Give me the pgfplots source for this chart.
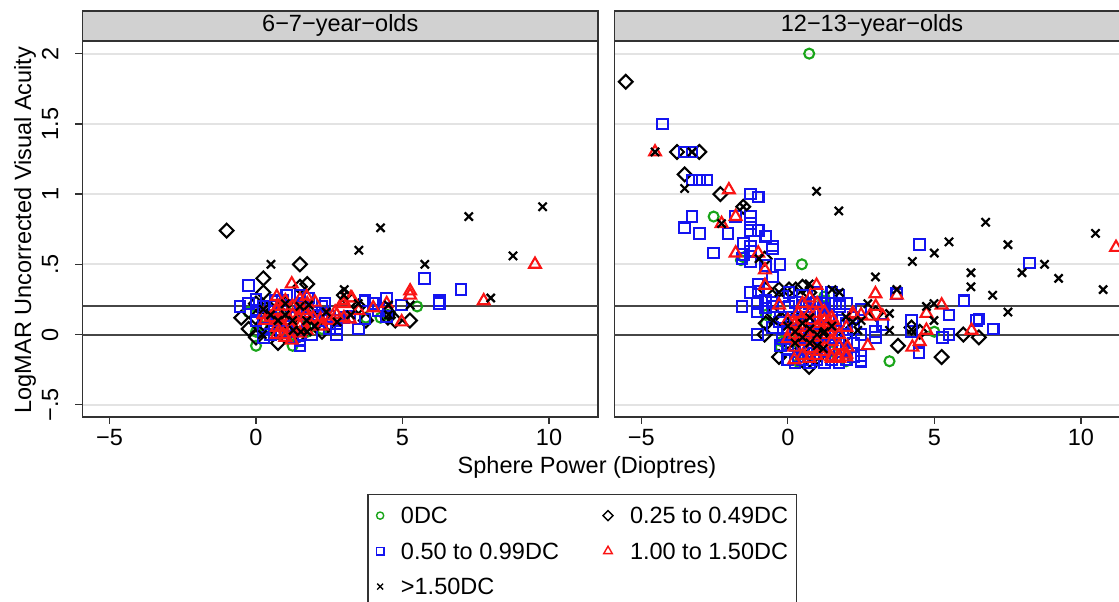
\documentclass[border=0pt]{standalone}
\usepackage{fontspec}
\setmainfont{Liberation Sans}
\usepackage{pgfplots}
\pgfplotsset{compat=1.18}

\definecolor{stgreen}{RGB}{25,165,25}
\definecolor{stblue}{RGB}{20,20,240}
\definecolor{stred}{RGB}{250,20,20}
\definecolor{frame}{RGB}{50,50,50}

\pgfplotsset{
  panel/.style={
    scale only axis, width=515.5pt, height=376pt,
    xmin=-5.92, xmax=11.67, ymin=-0.587, ymax=2.09,
    anchor=south west,
    axis line style={draw=frame, line width=1.3pt},
    xtick={-5,0,5,10}, xticklabels={−5,0,5,10},
    ytick={-0.5,0,0.5,1,1.5,2},
    xtick pos=bottom, ytick pos=left,
    tick align=outside, major tick length=7pt,
    tick style={frame, line width=1.3pt},
    xticklabel style={anchor=north, inner sep=0pt},
    xticklabel shift=5pt,
    ymajorgrids, grid style={black!11, line width=1.8pt},
    clip mode=individual,
  },
  g0/.style={only marks, mark=o, mark size=5pt, stgreen, line width=2.1pt},
  g1/.style={only marks, mark=square, mark size=4.9pt, mark options={rotate=45}, black, line width=2.1pt},
  g2/.style={only marks, mark=square, mark size=5.3pt, stblue, line width=2.1pt},
  g3/.style={only marks, mark=triangle, mark size=6.8pt, stred, line width=2.1pt},
  g4/.style={only marks, mark=x, mark size=5.8pt, black, line width=2.2pt},
  refl/.style={frame!90, line width=2pt, forget plot},
}

\begin{document}
\fontsize{23.5}{28}\selectfont
\begin{tikzpicture}[x=1pt,y=1pt]

% ---- left panel: 6-7-year-olds
\begin{axis}[panel, at={(82.5pt,185pt)},
  yticklabels={−.5,0,.5,1,1.5,2},
  yticklabel style={rotate=90, anchor=south, inner sep=0pt},
  yticklabel shift=17pt,
  legend columns=2,
  legend cell align=left,
  legend style={
    at={(0.5525,-0.2048)}, anchor=north west,
    draw=frame, line width=1.2pt, fill=white,
    inner xsep=8.4pt, inner ysep=12.75pt,
    row sep=19pt,
    nodes={inner sep=0pt, text height=16.5pt, text depth=0pt},
    /tikz/every odd column/.append style={column sep=17pt},
    /tikz/every even column/.append style={column sep=44pt},
  },
  legend image code/.code={\draw[mark repeat=2,mark phase=2,line width=1.4pt,/tikz/every mark/.append style={scale=0.72}] plot coordinates {(0pt,0pt)(6pt,0pt)(12pt,0pt)};},
]
\addplot[refl] coordinates {(-6,0) (12,0)};
\addplot[refl] coordinates {(-6,0.2) (12,0.2)};

\addplot[g0] coordinates {(0,-0.08) (1.25,-0.08) (5.5,0.2) (4.25,0.12) (0,0.02) (0.2,0.06) (0.75,0.12) (1,0.18) (1.75,0.02) (2.25,0.04) (3.75,0.12) (4.5,0.14) (1.5,0.08) (0.5,0.04) (2,0.06) (-0.25,0.16) (1.25,0.0)};
\addlegendentry{0DC}

\addplot[g1] coordinates {(-1,0.74) (1.5,0.5) (0.25,0.4) (0.25,0.3) (1.75,0.36) (1.5,0.34) (-0.5,0.12) (-0.25,0.04) (0,-0.02) (0.75,-0.06) (5.25,0.1) (4.75,0.1) (4.5,0.12) (3.75,0.1) (3,0.28) (0.25,0.2) (0,0.22) (0.25,0.08) (1,0.1) (1.25,0.12) (0.5,0.18) (1.75,0.14) (2,0.12) (2.5,0.08) (1,0.22) (0.75,0.02) (1.5,0) (4.5,0.16) (3.5,0.2) (0,0.12) (1.25,0.04) (2.25,0.02)};
\addlegendentry{0.25 to 0.49DC\hspace{12pt}}

\addplot[g2] coordinates {(-0.26,0.35) (-0.55,0.2) (-0.26,0.22) (0,0.25) (0,0.1) (0.25,0.2) (0.25,-0.02) (1.5,0.28) (1.78,0.26) (2.35,0.22) (2.35,0.15) (2.75,0) (2.75,0.04) (3.5,0.04) (3.72,0.24) (4,0.22) (3.72,0.11) (4.46,0.26) (4.46,0.13) (4.97,0.21) (5.75,0.4) (6.25,0.24) (6.25,0.22) (7,0.32) (1.5,-0.08) (1.05,0.28) (0.65,0.24) (0.25,0.04) (0.7,0.1) (1.1,0.02) (1.9,0) (2.13,0.14) (2.5,0.13) (3.2,0.13) (4.17,0.17) (0.5,0.12) (0.75,0.16) (1,0.06) (1.25,0.2) (1.5,0.16) (1.75,0.08) (2,0.16) (2.25,0.1) (0.5,0.2) (1,0.14) (1.25,-0.02) (1.5,0.22) (0.75,0.08) (2.5,0.04) (3,0.12) (0,0.16) (0.25,0.12) (1.5,-0.04) (0.5,0.0) (2.25,0.2) (1.75,0.2) (2.75,0.1) (0.9,0.24)};
\addlegendentry{0.50 to 0.99DC}

\addplot[g3] coordinates {(1.22,0.36) (0.71,0.27) (1.73,0.27) (2.01,0.23) (2.98,0.24) (3.27,0.26) (5.26,0.31) (5.26,0.28) (4.97,0.09) (4,0.19) (4.46,0.22) (3.2,0.11) (3,0.12) (2.7,0.16) (2.41,0.13) (2.2,0.11) (0.25,0.14) (0.71,0.17) (0.93,0.2) (1.22,0.04) (0.71,0) (0.93,0) (1.73,0.03) (1.22,-0.04) (0.71,0.05) (1.44,0.13) (1.73,0.15) (1.95,0.12) (1.16,0.1) (0.83,0.1) (0.31,0.1) (1.9,0.06) (1.5,0.06) (1.61,0.17) (9.52,0.5) (7.77,0.24) (3.5,0.17) (3.23,0.26) (3,0.22) (1.0,0.24) (1.25,0.2) (0.75,0.2) (1.5,0.25) (1,-0.02) (0.5,0.12) (2.5,0.1) (2.75,0.14) (1.75,0.22) (1.25,0.14) (0.9,0.06) (2.25,0.06) (1.5,0.01) (0.75,0.1)};
\addlegendentry{1.00 to 1.50DC\hspace{12pt}}

\addplot[g4] coordinates {(0.51,0.5) (3.51,0.6) (4.25,0.76) (7.26,0.84) (9.78,0.91) (8.77,0.56) (5.76,0.5) (8.01,0.26) (3.01,0.32) (3.23,0.14) (3.49,0.22) (4.52,0.21) (4.52,0.14) (5.26,0.21) (1,0.14) (1.8,0.21) (1,0.22) (0.22,0) (1.27,0.03) (1.53,0.02) (1.73,0.1) (0.75,0.1) (2.77,0.09) (2.4,0.16) (1.25,0.1) (0.5,0.14) (1.5,0.2) (2,0.06) (0.25,0.18) (1.75,0.02) (3.0,0.28)};
\addlegendentry{>1.50DC}
\end{axis}

% ---- right panel: 12-13-year-olds
\begin{axis}[panel, at={(614.3pt,185pt)},
  yticklabels={}, ymajorticks=false,
]
\addplot[refl] coordinates {(-6,0) (12,0)};
\addplot[refl] coordinates {(-6,0.2) (12,0.2)};

\addplot[g0] coordinates {(0.73,2.0) (-2.53,0.84) (0.48,0.5) (1.24,0.27) (3.47,-0.19) (5.0,0.02) (-0.75,0.14) (-0.75,0.08) (-0.24,-0.09) (0.39,-0.2) (1.99,-0.19) (-1.5,0.55) (-1.6,0.53) (1.21,0.24) (-0.18,-0.05) (0.25,-0.05) (1.5,-0.12)};

\addplot[g1] coordinates {(-5.53,1.8) (-3.78,1.3) (-3.02,1.3) (-3.52,1.14) (-2.3,1.0) (-1.52,0.91) (-0.79,0.54) (-0.3,0.32) (0.04,0.32) (0.27,0.32) (0.73,0.3) (0.5,0.34) (-0.75,0.08) (-0.79,0) (-0.3,-0.16) (-0.18,0.1) (0.73,-0.23) (0.5,-0.1) (0.25,0.12) (0,-0.05) (-0.5,0.15) (0.75,-0.18) (1.25,0.05) (3.76,-0.08) (5.25,-0.16) (5.99,0) (6.52,-0.02) (3.0,0.15) (4.22,0.05) (4.5,0.02) (-0.75,0.32) (1.0,-0.16) (2.0,0.0)};

\addplot[g2] coordinates {(-4.28,1.5) (-3.52,1.3) (-3.27,1.3) (-3.27,1.1) (-3.02,1.1) (-2.76,1.1) (-1.27,1.0) (-1.01,0.98) (-3.27,0.84) (-3.52,0.76) (-3.02,0.72) (-2.04,0.72) (-2.53,0.58) (-1.78,0.84) (-1.27,0.84) (-1.27,0.79) (-1.27,0.74) (-1.01,0.74) (-0.75,0.7) (-0.53,0.63) (-0.53,0.61) (-1.52,0.65) (-1.27,0.63) (-1.52,0.57) (-1.27,0.59) (-1.56,0.54) (-1.27,0.52) (-0.27,0.5) (-0.75,0.49) (-1.01,0.36) (-0.53,0.41) (-1.27,0.3) (-1.01,0.31) (-1.56,0.2) (-1.04,0.22) (-1.04,0.16) (-0.75,0.19) (-0.75,0.24) (-0.52,0.23) (-0.18,0.27) (-1.04,0) (-0.53,0.05) (-0.28,0.09) (0.04,0.3) (0.04,0.2) (0.27,0.23) (0.27,0.1) (0,0.04) (-0.18,-0.03) (0,-0.07) (0,-0.18) (0.35,-0.16) (0.93,0.22) (1.21,0.19) (1.21,0.12) (1,0.09) (4.5,0.64) (8.25,0.51) (6.01,0.24) (5.5,0.14) (6.52,0.11) (7.01,0.04) (5.5,0) (5.28,-0.02) (3.72,0.29) (4.22,0.1) (4.22,0.02) (4.48,-0.13) (2.99,-0.02) (2.99,0.02) (2.5,-0.15) (2.5,-0.19) (3.24,0.07) (2.23,0.12) (1.76,0.22) (1.76,0.2) (2.5,0.18) (0.73,0.22) (0.98,0.23) (6.44,0.1)
 (-0.25,0.12) (0.5,0.2) (0.75,0.12) (1.25,0.14) (1.5,0.12) (1.75,0.1) (2,0.08) (2.25,0.04) (2.5,0.0) (0.25,0.04) (0.5,0.0) (0.75,0.02) (1.0,0.0) (1.25,0.04) (1.5,0.0) (1.75,-0.02) (2.0,-0.04) (2.25,-0.06) (-0.25,-0.08) (0.25,-0.08) (0.5,-0.1) (0.75,-0.06) (1.0,-0.1) (1.25,-0.08) (1.5,-0.1) (1.75,-0.1) (2.0,-0.12) (0.25,-0.2) (0.5,-0.18) (0.75,-0.2) (1.0,-0.18) (1.25,-0.2) (1.5,-0.18) (1.75,-0.2) (2.0,-0.18) (2.25,-0.16) (1.0,0.3) (1.5,0.3) (1.75,0.28) (-0.5,0.2) (0.5,0.28) (1.5,0.22) (2.0,0.22) (1.25,0.22)};

\addplot[g3] coordinates {(-4.53,1.3) (-2.01,1.03) (-1.78,0.84) (-2.26,0.79) (-1.78,0.58) (-1.01,0.58) (-0.78,0.46) (-0.78,0.35) (-0.3,0.21) (0.98,0.35) (2.99,0.29) (3.72,0.28) (3.0,0.2) (3.24,0.13) (2.79,0.13) (2.21,0.15) (5.25,0.21) (4.73,0.15) (4.73,0.03) (4.5,-0.05) (4.25,-0.09) (2.73,-0.08) (2.04,-0.09) (6.27,0.03) (2.0,-0.14) (1.47,-0.16) (1.7,-0.16) (11.2,0.62) (0.73,0.15) (0.98,0.15) (0.48,0.11) (0.22,0.07) (0,-0.03) (0.22,-0.09) (0.22,-0.18) (0.73,-0.17) (0.98,-0.15) (1.5,-0.17) (1.76,-0.17) (1.99,-0.16) (0.25,0) (0.5,0.05) (0.5,-0.05) (0.5,-0.15) (0.75,0.1) (0.75,0) (0.75,-0.1) (1,0.05) (1,-0.05) (1.25,0.1) (1.25,0) (1.25,-0.1) (1.5,0.05) (1.5,-0.05) (0.25,0.08) (0.5,0.22) (0.75,0.26) (1.25,0.16) (1.5,0.12) (0.6,0.02) (0.9,-0.02) (1.1,0.08) (1.4,0.02) (0.4,-0.02) (0.1,0.02) (0,0.1) (1.75,0) (1.75,-0.08) (2.0,0.05) (2.25,0.14) (2.5,0.14) (1.0,0.22) (1.35,0.08) (1.55,0.1) (1.1,-0.12) (0.35,0.15)};

\addplot[g4] coordinates {(-4.53,1.3) (-3.27,1.3) (-3.52,1.04) (-1.52,0.91) (-2.26,0.79) (0.98,1.02) (1.74,0.88) (5.5,0.66) (6.75,0.8) (7.51,0.64) (10.5,0.72) (8.76,0.5) (7.99,0.44) (6.25,0.44) (6.25,0.34) (9.24,0.4) (6.99,0.28) (10.76,0.32) (7.51,0.16) (5.0,0.58) (4.25,0.52) (2.99,0.41) (3.72,0.32) (1.51,0.32) (1.76,0.3) (2.73,0.22) (4.73,0.2) (4.99,0.22) (3.47,0.15) (4.99,0.1) (3.47,0.03) (4.22,0.035) (1.21,0.01) (2.21,0.09) (2.5,0.1) (2.39,0.03) (1.99,0.125) (1.21,-0.1) (0.73,0.36) (0.25,0.02) (0.5,-0.02) (0.75,0.04) (1,0) (0.75,-0.06) (1.25,0.02) (1,-0.08) (0.5,0.08) (1.5,0.06) (0.25,-0.06) (0,0.06) (-0.3,0.3) (-0.98,0.54) (-0.5,0.1) (0.75,0.12)};
\end{axis}

% panel strips
\draw[fill=black!18, draw=frame, line width=1.3pt] (82.5,561.3) rectangle (598,591);
\node at (340.25,576.2) {6−7−year−olds};
\draw[fill=black!18, draw=frame, line width=1.3pt] (614.3,561.3) rectangle (1129.8,591);
\node at (872,576.2) {12−13−year−olds};

% axis titles
\node at (587,135) {Sphere Power (Dioptres)};
\node[rotate=90] at (25,372) {LogMAR Uncorrected Visual Acuity};

\pgfresetboundingbox
\path[use as bounding box] (0,0) rectangle (1119,602);
\end{tikzpicture}
\end{document}
